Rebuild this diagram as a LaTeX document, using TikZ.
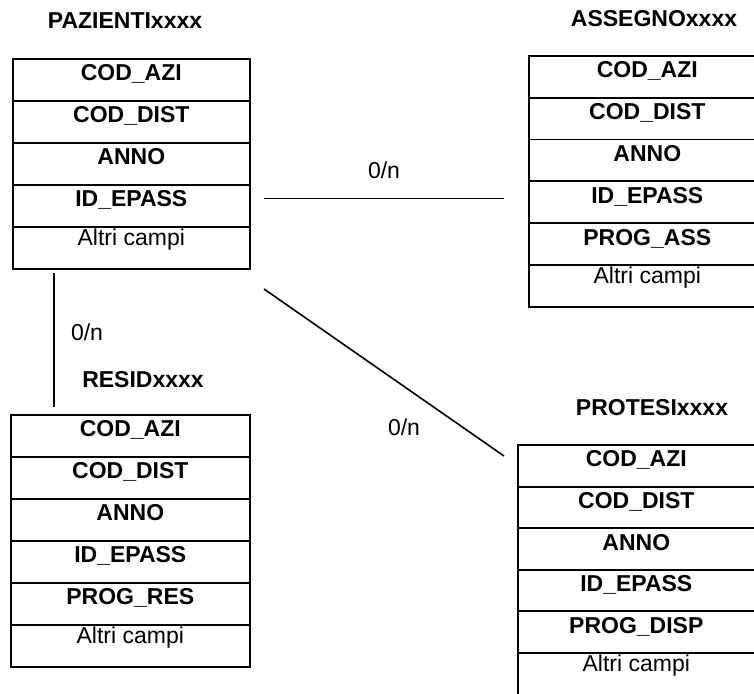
\documentclass[tikz,border=0pt]{standalone}
\usepackage{fontspec}
\setmainfont{Liberation Sans}
\begin{document}
\begin{tikzpicture}[x=1pt, y=-1pt, line width=1.6pt]
  \tikzstyle{campo}=[draw, anchor=north west, minimum width=237pt, minimum height=42pt,
                     inner sep=0pt, text height=22pt, text depth=20pt,
                     font=\fontsize{23}{27}\selectfont\bfseries]
  \tikzstyle{altri}=[campo, text height=19pt, text depth=23pt, font=\fontsize{23}{27}\selectfont]
  \tikzstyle{titolo}=[anchor=base, inner sep=0pt, font=\fontsize{23}{27}\selectfont\bfseries]
  \tikzstyle{card}=[anchor=base, inner sep=0pt, font=\fontsize{23}{27}\selectfont]
  \clip (0,0) rectangle (754,693);

  % PAZIENTI
  \node[titolo] (pazT) at (125,29) {PAZIENTIxxxx};
  \foreach \f [count=\i] in {COD\_AZI, COD\_DIST, ANNO, ID\_EPASS}
    \node[campo] (paz\i) at (12,58+42*\i-42) {\f};
  \node[altri] (paz5) at (12,226) {Altri campi};

  % ASSEGNO
  \node[titolo] (assT) at (654,27) {ASSEGNOxxxx};
  \foreach \f [count=\i] in {COD\_AZI, COD\_DIST, ANNO, ID\_EPASS, PROG\_ASS}
    \node[campo, minimum height=41.8pt] (ass\i) at (528,55+41.8*\i-41.8) {\f};
  \node[altri, minimum height=41.8pt] (ass6) at (528,264) {Altri campi};

  % RESID
  \node[titolo] (resT) at (143,387) {RESIDxxxx};
  \foreach \f [count=\i] in {COD\_AZI, COD\_DIST, ANNO, ID\_EPASS, PROG\_RES}
    \node[campo, minimum width=239pt] (res\i) at (10,414+42*\i-42) {\f};
  \node[altri, minimum width=239pt] (res6) at (10,624) {Altri campi};

  % PROTESI
  \node[titolo] (proT) at (652,415) {PROTESIxxxx};
  \foreach \f [count=\i] in {COD\_AZI, COD\_DIST, ANNO, ID\_EPASS, PROG\_DISP}
    \node[campo, minimum height=41.6pt] (pro\i) at (517,444+41.6*\i-41.6) {\f};
  \node[altri, minimum height=41.6pt] (pro6) at (517,652) {Altri campi};

  % legami
  \coordinate (a1) at (264,198.5);
  \coordinate (a2) at (504,198.5);
  \coordinate (r1) at (54,273);
  \coordinate (r2) at (54,407);
  \coordinate (p1) at (264,289);
  \coordinate (p2) at (504,456);
  \draw (a1) -- (a2);
  \draw (r1) -- (r2);
  \draw (p1) -- (p2);
  \node[card] (ca) at (384,178) {0/n};
  \node[card] (cr) at (87,340) {0/n};
  \node[card] (cp) at (404,435) {0/n};
\end{tikzpicture}
\end{document}
